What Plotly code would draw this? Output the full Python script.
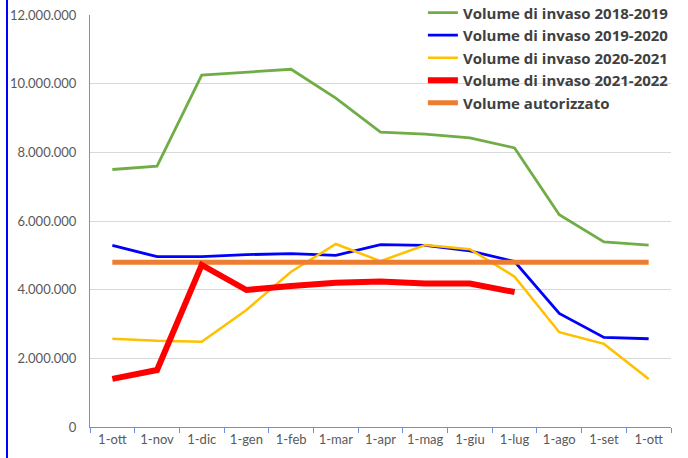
import plotly.graph_objects as go

months = ["1-ott", "1-nov", "1-dic", "1-gen", "1-feb", "1-mar", "1-apr",
          "1-mag", "1-giu", "1-lug", "1-ago", "1-set", "1-ott"]

vol_2018_2019 = [7500000, 7600000, 10250000, 10340000, 10420000, 9580000, 8590000,
                 8530000, 8420000, 8130000, 6180000, 5390000, 5300000]
vol_2019_2020 = [5290000, 4960000, 4960000, 5020000, 5050000, 5000000, 5310000,
                 5290000, 5130000, 4820000, 3310000, 2610000, 2570000]
vol_2020_2021 = [2570000, 2510000, 2480000, 3410000, 4520000, 5330000, 4830000,
                 5300000, 5180000, 4380000, 2760000, 2420000, 1400000]
vol_2021_2022 = [1400000, 1660000, 4720000, 3990000, 4110000, 4200000, 4240000,
                 4180000, 4180000, 3930000]
vol_autorizzato = [4800000] * 13

names = ["Volume di invaso 2018-2019", "Volume di invaso 2019-2020",
         "Volume di invaso 2020-2021", "Volume di invaso 2021-2022",
         "Volume autorizzato"]

x = list(range(len(months)))

fig = go.Figure()
fig.add_trace(go.Scatter(x=x, y=vol_2018_2019, name=names[0], mode="lines",
                         line=dict(color="#70AD47", width=2.8), legendrank=1))
fig.add_trace(go.Scatter(x=x, y=vol_2019_2020, name=names[1], mode="lines",
                         line=dict(color="#0000FF", width=2.8), legendrank=2))
fig.add_trace(go.Scatter(x=x, y=vol_2020_2021, name=names[2], mode="lines",
                         line=dict(color="#FFC000", width=2.5), legendrank=3))
fig.add_trace(go.Scatter(x=x, y=vol_autorizzato, name=names[4], mode="lines",
                         line=dict(color="#ED7D31", width=5), legendrank=5))
fig.add_trace(go.Scatter(x=x[:len(vol_2021_2022)], y=vol_2021_2022, name=names[3], mode="lines",
                         line=dict(color="#FF0000", width=6), legendrank=4))

axis_blue = "#6E8FE8"
fig.update_layout(
    width=688, height=458,
    margin=dict(l=90, r=17, t=15, b=31, autoexpand=False),
    paper_bgcolor="white", plot_bgcolor="white",
    separators=",.",
    font=dict(family="Lato, Open Sans, sans-serif", color="#595959", size=13),
    showlegend=True,
    legend=dict(x=0.573, y=1.045, xanchor="left", yanchor="top",
                bgcolor="rgba(0,0,0,0)", tracegroupgap=0,
                font=dict(family="Open Sans, sans-serif", size=15, color="#404040", weight="bold")),
    xaxis=dict(range=[-0.5, 12.5], tickmode="array", tickvals=x, ticktext=months,
               showgrid=False, zeroline=False, showline=True, linecolor=axis_blue, linewidth=1,
               ticks="", tickfont=dict(size=13, color="#595959"),
               minor=dict(ticks="outside", tick0=-0.5, dtick=1, ticklen=5,
                          tickcolor=axis_blue, showgrid=False)),
    yaxis=dict(range=[0, 12000000], tickmode="linear", tick0=0, dtick=2000000,
               tickformat=",d", showgrid=True, gridcolor="#D9D9D9", gridwidth=1,
               zeroline=False, showline=True, linecolor=axis_blue, linewidth=1,
               ticks="", ticklabelstandoff=10, tickfont=dict(size=13, color="#595959")),
    shapes=[dict(type="line", xref="paper", yref="paper",
                 x0=(7 - 90) / 581, x1=(7 - 90) / 581,
                 y0=-31 / 412, y1=1 + 15 / 412 + 0.01,
                 line=dict(color="#0000FF", width=2))],
)

fig.write_html("out.html", config={"displayModeBar": False},
               post_script="document.body.style.margin='0';")
